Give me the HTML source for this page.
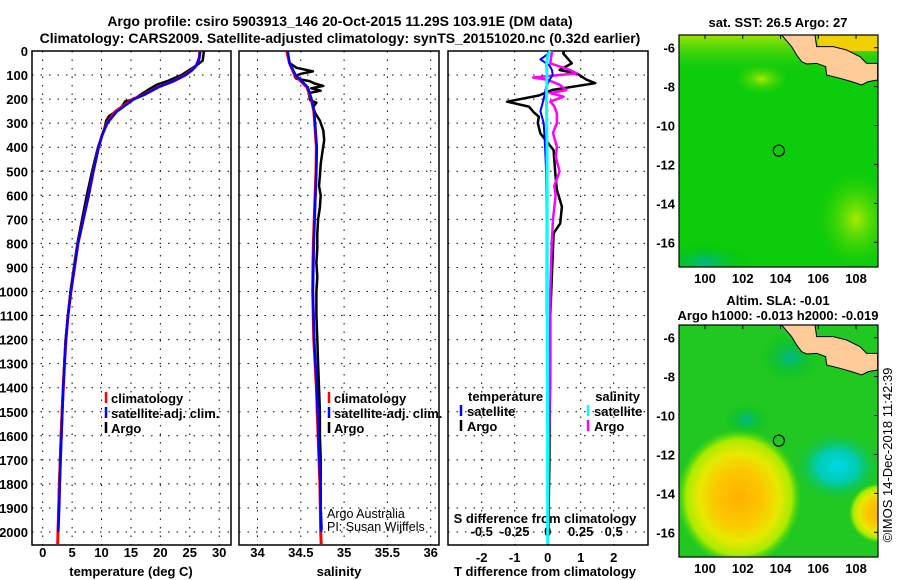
<!DOCTYPE html>
<html><head><meta charset="utf-8">
<style>
html,body{margin:0;padding:0;background:#fff;}
svg{display:block;font-family:"Liberation Sans",Arial,sans-serif;}
.b{font-weight:bold;font-size:13px;fill:#000;}
.t{font-weight:bold;font-size:14px;fill:#000;}
.thin{font-size:12.5px;fill:#000;}
.grid{stroke:#000;stroke-width:1;stroke-dasharray:1.5 7;}
</style></head>
<body>
<svg id="chart" width="900" height="580" viewBox="0 0 900 580">
<defs>
<radialGradient id="gy" cx="50%" cy="50%" r="50%"><stop offset="0%" stop-color="#ffb000"/><stop offset="40%" stop-color="#fcc800"/><stop offset="65%" stop-color="#e8e800"/><stop offset="85%" stop-color="#a8ec00"/><stop offset="100%" stop-color="#5adc00" stop-opacity="0"/></radialGradient>
<radialGradient id="gc" cx="50%" cy="50%" r="50%"><stop offset="0%" stop-color="#00d8e8"/><stop offset="45%" stop-color="#00ccb0"/><stop offset="100%" stop-color="#10c020" stop-opacity="0"/></radialGradient>
<radialGradient id="gt" cx="50%" cy="50%" r="50%"><stop offset="0%" stop-color="#00b890"/><stop offset="100%" stop-color="#00c000" stop-opacity="0"/></radialGradient>
<radialGradient id="gl" cx="50%" cy="50%" r="50%"><stop offset="0%" stop-color="#a8ec00"/><stop offset="100%" stop-color="#30d000" stop-opacity="0"/></radialGradient>
<linearGradient id="topband" x1="0" y1="0" x2="0" y2="1"><stop offset="0%" stop-color="#a0e400"/><stop offset="100%" stop-color="#10cc10" stop-opacity="0"/></linearGradient>
<clipPath id="m1c"><rect x="679" y="35" width="199" height="232"/></clipPath>
<clipPath id="m2c"><rect x="679" y="325" width="199" height="232"/></clipPath>
</defs>
<text class="t" x="340" y="26" text-anchor="middle">Argo profile: csiro 5903913_146 20-Oct-2015 11.29S 103.91E (DM data)</text>
<text class="t" x="340" y="43" text-anchor="middle">Climatology: CARS2009. Satellite-adjusted climatology: synTS_20151020.nc (0.32d earlier)</text>
<g id="p1"></g>
<g id="p2"></g>
<g id="p3"></g>
<g id="maps"></g>
<text class="thin" transform="translate(892,455) rotate(-90)" text-anchor="middle" style="font-size:13px">©IMOS 14-Dec-2018 11:42:39</text>
</svg>
<script>
// ---- data ----
const depthTicks=[0,100,200,300,400,500,600,700,800,900,1000,1100,1200,1300,1400,1500,1600,1700,1800,1900,2000];
const tempTicks=[0,5,10,15,20,25,30];
const salTicks=[34,34.5,35,35.5,36];
const salTickLabels=['34','34.5','35','35.5','36'];
const tdiffTicks=[-2,-1,0,1,2];
const sdiffTicks=[-0.5,-0.25,0,0.25,0.5];
const sdiffTickLabels=['-0.5','-0.25','0','0.25','0.5'];

const climTDepth=[0,30,60,80,100,125,150,183,200,252,300,350,400,500,600,700,800,900,1000,1100,1200,1300,1400,1500,1600,1700,1800,1900,2000,2050];
const climT=[26.7,26.6,26.1,25.3,24.2,22.2,19.6,17.1,15.3,12.3,10.9,10.1,9.5,8.6,7.8,6.9,6.0,5.4,4.8,4.3,3.95,3.7,3.5,3.3,3.15,3.0,2.85,2.72,2.6,2.55];
const satTDepth=[0,30,60,80,100,125,150,183,200,252,300,350,400,500,600,700,800,900,1000,1100,1200,1300,1400,1500,1600,1700,1800,1900,2000];
const satT=[26.8,26.6,26.2,25.4,24.3,22.3,19.7,17.2,15.5,12.6,11.0,10.1,9.5,8.6,7.8,6.9,6.0,5.4,4.8,4.3,3.95,3.7,3.5,3.35,3.2,3.05,2.9,2.8,2.65];
const argoTDepth=[0,40,55,70,100,125,140,160,185,200,210,240,270,290,320,400,500,600,700,800,900,1000,1200,1400,1600,1800,2000];
const argoT=[27.4,27.2,26.4,25.5,23.6,21.2,19.4,18.0,16.4,15.6,14.0,13.2,11.3,10.8,10.5,9.4,8.4,7.5,6.7,5.9,5.3,4.7,3.9,3.45,3.1,2.8,2.6];

const climSDepth=[0,50,100,150,200,250,300,400,500,600,700,800,900,1000,1200,1400,1600,1800,2000,2050];
const climS=[34.34,34.37,34.43,34.57,34.62,34.65,34.66,34.68,34.675,34.665,34.655,34.645,34.64,34.637,34.65,34.68,34.70,34.72,34.73,34.735];
const satSDepth=[0,50,100,150,200,250,300,400,500,600,700,800,900,1000,1200,1400,1600,1800,2000];
const satS=[34.35,34.37,34.44,34.58,34.625,34.655,34.665,34.685,34.68,34.67,34.66,34.65,34.645,34.64,34.655,34.685,34.705,34.725,34.735];
const argoSDepth=[0,20,50,70,85,95,105,115,125,135,145,155,165,175,190,205,215,235,260,290,330,370,420,470,520,560,600,650,700,760,820,880,940,1000,1100,1200,1300,1400,1500,1600,1700,1800,1900,1990];
const argoS=[34.34,34.35,34.37,34.45,34.64,34.50,34.43,34.45,34.60,34.66,34.76,34.62,34.73,34.59,34.60,34.61,34.68,34.64,34.67,34.72,34.76,34.77,34.75,34.73,34.72,34.71,34.73,34.72,34.70,34.69,34.69,34.68,34.69,34.68,34.68,34.69,34.70,34.71,34.72,34.72,34.73,34.73,34.73,34.74];

const argoDTDepth=[0,10,51,79,93,120,134,162,185,211,231,255,273,300,343,412,509,578,647,717,758,850,950,1100,1300,1500,1700,1900,2000];
const argoDT=[0.5,0.47,0.73,0.36,0.88,1.19,1.44,0.13,-0.27,-1.23,-0.57,-0.42,-0.27,-0.3,-0.22,0.18,0.23,0.28,0.43,0.38,0.18,0.15,0.12,0.08,0.08,0.06,0.05,0.03,0.02];
const satDTDepth=[0,10,35,60,80,100,120,150,200,250,300,400,500,700,1000,1100];
const satDT=[0,0.03,-0.22,0.05,0.13,0.15,0.05,-0.05,-0.12,-0.22,-0.12,-0.08,-0.05,-0.03,-0.03,-0.03];
const argoDSDepth=[0,10,51,79,93,110,120,140,162,175,190,210,230,260,300,340,400,440,500,560,600,700,800,1000,1300,1600,2000];
const argoDS=[0.03,0.03,0.02,0.17,0.22,-0.11,0.0,0.09,0.14,0.02,0.12,0.02,0.05,0.07,0.07,0.04,0.07,0.06,0.09,0.05,0.06,0.04,0.03,0.02,0.02,0.01,0.0];
const satDSDepth=[0,20,60,100,200,400,1000,2050];
const satDS=[0.02,0.0,-0.01,-0.005,-0.01,-0.005,-0.003,0.0];

const lonTicks=[100,102,104,106,108];
const latTicks=[-6,-8,-10,-12,-14,-16];
const floatLon=[103.91];
const floatLat=[-11.29];

// ---- helpers ----
const NS='http://www.w3.org/2000/svg';
function mk(tag,attrs,parent){const e=document.createElementNS(NS,tag);for(const k in attrs)e.setAttribute(k,attrs[k]);parent.appendChild(e);return e;}
const TOP=51, BOT=545;
const yD=d=>TOP+d*0.2405;
const xT=v=>42.7+v*5.883;
const xS=v=>257.5+(v-34)*86.6;
const xDT=v=>547.7+v*33;
const xDS=v=>547.7+v*132;

function frame(g,x0,x1,xticks,xf){
  for(const d of depthTicks){ if(d===0) continue;
    const l=mk('line',{x1:x0,x2:x1,y1:yD(d),y2:yD(d),class:'grid'},g);
    
    
  }
  for(const v of xticks){
    const l=mk('line',{x1:xf(v),x2:xf(v),y1:TOP,y2:BOT,class:'grid'},g);
    
    
  }
  const r=mk('rect',{x:x0,y:TOP,width:x1-x0,height:BOT-TOP,fill:'none',stroke:'#000','stroke-width':1.5},g);
  
  
}
function line(g,ds,vs,xf,color,w,name){
  const pts=ds.map((d,i)=>xf(vs[i]).toFixed(1)+','+yD(d).toFixed(1)).join(' ');
  const p=mk('polyline',{points:pts,fill:'none',stroke:color,'stroke-width':w,'stroke-linejoin':'round'},g);
  
  
}
function txt(g,x,y,s,cls,anchor,name){
  const t=mk('text',{x:x,y:y,class:cls,'text-anchor':anchor||'start'},g);t.textContent=s;
  
  
  return t;
}
function legendMark(g,x,y,color,name){
  const l=mk('line',{x1:x,x2:x,y1:y-11,y2:y,stroke:color,'stroke-width':2.5},g);
  
  
}

// ---- panel 1 ----
const p1=document.getElementById('p1');
frame(p1,32,231,tempTicks,xT);
depthTicks.forEach(d=>txt(p1,28,yD(d)+5,String(d),'b','end','depth-tick-label'));
tempTicks.forEach(v=>txt(p1,xT(v),557,String(v),'b','middle','temperature-tick-label'));
txt(p1,131,576,'temperature (deg C)','b','middle','x-axis-title');
line(p1,argoTDepth,argoT,xT,'#000',2.5,'argo-temperature-line');
line(p1,climTDepth,climT,xT,'#f00',3,'climatology-temperature-line');
line(p1,satTDepth,satT,xT,'#00f',2.5,'satellite-temperature-line');
legendMark(p1,106,403,'#f00','legend-climatology-mark');txt(p1,111,403,'climatology','b','start','legend-climatology');
legendMark(p1,106,418,'#00f','legend-satellite-mark');txt(p1,111,418,'satellite-adj. clim.','b','start','legend-satellite');
legendMark(p1,106,433,'#000','legend-argo-mark');txt(p1,111,433,'Argo','b','start','legend-argo');

// ---- panel 2 ----
const p2=document.getElementById('p2');
frame(p2,239,439,salTicks,xS);
salTicks.forEach((v,i)=>txt(p2,xS(v),557,salTickLabels[i],'b','middle','salinity-tick-label'));
txt(p2,339,576,'salinity','b','middle','x-axis-title');
line(p2,argoSDepth,argoS,xS,'#000',2.5,'argo-salinity-line');
line(p2,climSDepth,climS,xS,'#f00',3,'climatology-salinity-line');
line(p2,satSDepth,satS,xS,'#00f',2.5,'satellite-salinity-line');
legendMark(p2,329,403,'#f00','legend-climatology-mark');txt(p2,334,403,'climatology','b','start','legend-climatology');
legendMark(p2,329,418,'#00f','legend-satellite-mark');txt(p2,334,418,'satellite-adj. clim.','b','start','legend-satellite');
legendMark(p2,329,433,'#000','legend-argo-mark');txt(p2,334,433,'Argo','b','start','legend-argo');
txt(p2,327,518,'Argo Australia','thin','start','credit-argo-australia');
txt(p2,327,531,'PI: Susan Wijffels','thin','start','credit-pi');

// ---- panel 3 ----
const p3=document.getElementById('p3');
frame(p3,448,648,tdiffTicks,xDT);
tdiffTicks.forEach(v=>txt(p3,xDT(v),562,String(v),'b','middle','t-diff-tick-label'));
txt(p3,545,576,'T difference from climatology','b','middle','x-axis-title');
sdiffTicks.forEach((v,i)=>txt(p3,xDS(v),536,sdiffTickLabels[i],'b','middle','s-diff-tick-label'));
txt(p3,545,523,'S difference from climatology','b','middle','s-axis-title');
line(p3,argoDTDepth,argoDT,xDT,'#000',2.5,'argo-t-diff-line');
line(p3,argoDSDepth,argoDS,xDS,'#f0f',2.5,'argo-s-diff-line');
line(p3,satDTDepth,satDT,xDT,'#00f',2,'satellite-t-diff-line');
line(p3,satDSDepth,satDS,xDS,'#0ff',3,'satellite-s-diff-line');
txt(p3,468,401,'temperature','b','start','legend-temperature-heading');
legendMark(p3,461,416,'#00f','legend-t-satellite-mark');txt(p3,467,416,'satellite','b','start','legend-t-satellite');
legendMark(p3,461,431,'#000','legend-t-argo-mark');txt(p3,467,431,'Argo','b','start','legend-t-argo');
txt(p3,640,401,'salinity','b','end','legend-salinity-heading');
legendMark(p3,588,416,'#0ff','legend-s-satellite-mark');txt(p3,594,416,'satellite','b','start','legend-s-satellite');
legendMark(p3,588,431,'#f0f','legend-s-argo-mark');txt(p3,594,431,'Argo','b','start','legend-s-argo');

// ---- maps ----
const maps=document.getElementById('maps');
const MX0=679,MX1=878;
const xL=v=>705+(v-100)*18.88;
const yLat=(v,top)=>top+12.7+(-6-v)*19.46;
const land='M365,105 L395,140 L410,165 L425,185 L440,192 L470,190 L497,200 L500,225 L540,235 L575,245 L605,255 L625,245 L653,240 L653,190 L620,190 L600,170 L560,150 L520,140 L470,140 L465,105 Z';
function drawMap(top,type,title1,title2){
  const g=mk('g',{},maps);
  
  
  const c=mk('g',{'clip-path':'url(#'+(type==='sst'?'m1c':'m2c')+')'},g);
  mk('rect',{x:MX0,y:top,width:199,height:232,fill:type==='sst'?'#0ccc0c':'#22c822'},c);
  if(type==='sst'){
    mk('rect',{x:MX0,y:top,width:199,height:40,fill:'url(#topband)'},c);
    mk('ellipse',{cx:xL(103),cy:yLat(-7.6,top),rx:28,ry:16,fill:'url(#gl)'},c);
    mk('ellipse',{cx:xL(108),cy:yLat(-14.8,top),rx:40,ry:50,fill:'url(#gl)'},c);
    mk('ellipse',{cx:xL(100),cy:yLat(-17,top),rx:45,ry:18,fill:'url(#gt)'},c);
    mk('rect',{x:xL(106),y:top,width:80,height:16,fill:'#f0d000'},c);
  } else {
    mk('ellipse',{cx:xL(101.8),cy:yLat(-14.2,top),rx:62,ry:68,fill:'url(#gy)'},c);
    mk('ellipse',{cx:xL(107),cy:yLat(-12.6,top),rx:45,ry:36,fill:'url(#gc)'},c);
    mk('ellipse',{cx:xL(109.2),cy:yLat(-15,top),rx:30,ry:30,fill:'url(#gy)'},c);
    mk('ellipse',{cx:xL(102.2),cy:yLat(-10.2,top),rx:24,ry:16,fill:'url(#gt)'},c);
    mk('ellipse',{cx:xL(104.5),cy:yLat(-7,top),rx:32,ry:26,fill:'url(#gt)'},c);
  }
  const lg=mk('g',{transform:'translate(660,'+(top-35)+') scale(0.3333)'},c);
  const lp=mk('path',{d:land,fill:'#ffcc99',stroke:'#000','stroke-width':3},lg);
  
  
  const fr=mk('rect',{x:MX0,y:top,width:199,height:232,fill:'none',stroke:'#000','stroke-width':1.2},g);
  
  
  lonTicks.forEach(v=>{
    mk('line',{x1:xL(v),x2:xL(v),y1:top,y2:top+4,stroke:'#000'},g);
    txt(g,xL(v),top+248,String(v),'b','middle','longitude-tick-label');
  });
  latTicks.forEach(v=>{
    mk('line',{x1:MX1-4,x2:MX1,y1:yLat(v,top),y2:yLat(v,top),stroke:'#000'},g);
    txt(g,675,yLat(v,top)+5,String(v),'b','end','latitude-tick-label');
  });
  const m=mk('circle',{cx:xL(floatLon[0]),cy:yLat(floatLat[0],top),r:5.5,fill:'none',stroke:'#000','stroke-width':1.2},g);
  
  
  if(title2){txt(g,778,top-20,title1,'b','middle','map-title');txt(g,778,top-5,title2,'b','middle','map-subtitle');}
  else txt(g,778,top-8,title1,'b','middle','map-title');
}
drawMap(35,'sst','sat. SST: 26.5 Argo: 27');
drawMap(325,'sla','Altim. SLA: -0.01','Argo h1000: -0.013 h2000: -0.019');
</script>
</body></html>
